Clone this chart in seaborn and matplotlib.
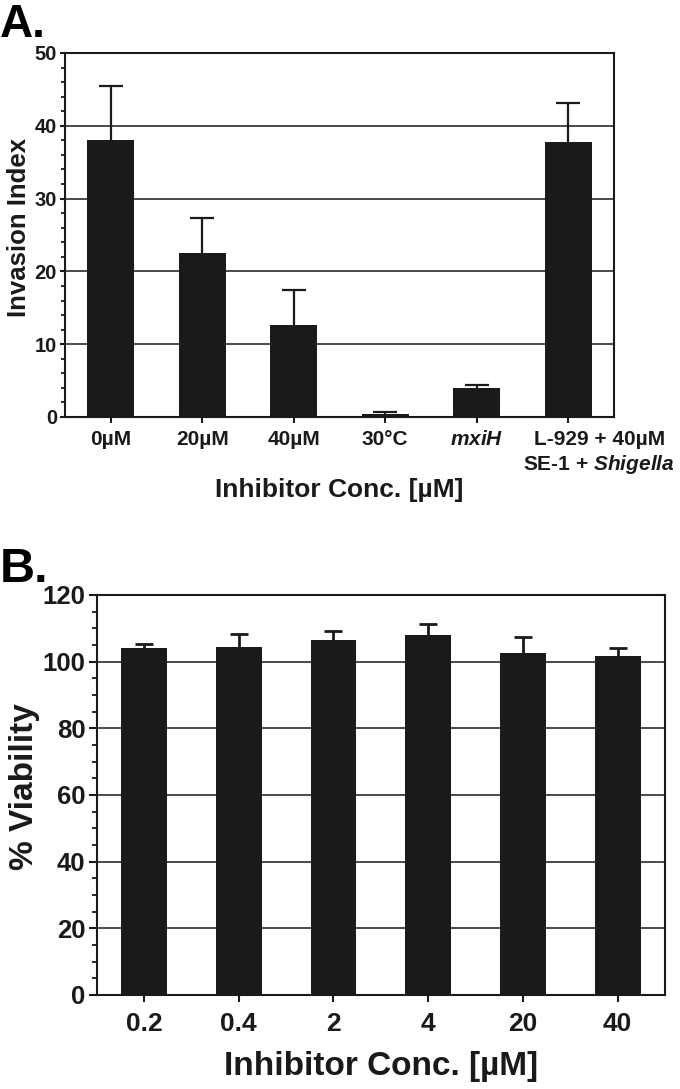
import numpy as np
import pandas as pd
import matplotlib
matplotlib.use("Agg")
import matplotlib.pyplot as plt
import matplotlib.transforms as mtransforms
from matplotlib.ticker import MultipleLocator
import seaborn as sns

# ---------------- data ----------------
# Panel A
a_labels = ["0µM", "20µM", "40µM", "30°C", r"$\mathit{mxiH}$",
            "L-929 + 40µM\nSE-1 + $\\mathit{Shigella}$"]
a_values = [38.1, 22.5, 12.6, 0.4, 4.0, 37.8]
a_errors = [7.3, 4.9, 4.9, 0.35, 0.4, 5.3]
a_yticks = [0, 10, 20, 30, 40, 50]

# Panel B
b_labels = ["0.2", "0.4", "2", "4", "20", "40"]
b_values = [104.1, 104.4, 106.5, 108.1, 102.5, 101.7]
b_errors = [1.2, 3.9, 2.6, 3.3, 4.9, 2.3]
b_yticks = [0, 20, 40, 60, 80, 100, 120]

# ---------------- style ----------------
sns.set_theme(style="white")
plt.rcParams["font.family"] = ["Liberation Sans", "DejaVu Sans"]
plt.rcParams["font.weight"] = "bold"
plt.rcParams["mathtext.fontset"] = "custom"
plt.rcParams["mathtext.it"] = "Liberation Sans:italic:bold"
plt.rcParams["mathtext.rm"] = "Liberation Sans:bold"
plt.rcParams["mathtext.bf"] = "Liberation Sans:bold"

BAR = "#1a1a1a"
INK = "#1a1a1a"

fig = plt.figure(figsize=(6.8, 10.89), dpi=100)


def style_axes(ax, ymax, major, minor, ytick_fs, xtick_fs, maj_len, min_len, xt_len, xpad):
    ax.set_ylim(0, ymax)
    ax.set_xlim(-0.5, 5.5)
    ax.yaxis.set_major_locator(MultipleLocator(major))
    ax.yaxis.set_minor_locator(MultipleLocator(minor))
    for s in ax.spines.values():
        s.set_visible(True)
        s.set_linewidth(1.5)
        s.set_color(INK)
    ax.set_axisbelow(True)
    ax.yaxis.grid(True, which="major", color=INK, linewidth=1.1)
    ax.xaxis.grid(False)
    ax.tick_params(axis="y", which="major", direction="out", length=maj_len, width=1.5,
                   color=INK, labelsize=ytick_fs, pad=2, left=True, labelcolor=INK)
    ax.tick_params(axis="y", which="minor", direction="out", length=min_len, width=1.3,
                   color=INK, left=True)
    ax.tick_params(axis="x", which="major", direction="out", length=xt_len, width=1.5,
                   color=INK, labelsize=xtick_fs, pad=xpad, bottom=True, labelcolor=INK)
    for lab in ax.get_xticklabels() + ax.get_yticklabels():
        lab.set_fontweight("bold")


def up_errorbars(ax, xs, vals, errs, lw, cap):
    cont = ax.errorbar(xs, vals, yerr=[np.zeros(len(vals)), errs], fmt="none",
                       ecolor=INK, elinewidth=lw, capsize=cap, capthick=lw, zorder=2)
    # hide the caps that sit on the bar tops (only upward whiskers in the original)
    for cl in cont[1]:
        if np.allclose(np.asarray(cl.get_ydata(), dtype=float), np.asarray(vals, dtype=float)):
            cl.set_visible(False)


# ---------------- Panel A ----------------
axA = fig.add_axes([65 / 680, 1 - 417 / 1089, 549 / 680, 364 / 1089])
dfA = pd.DataFrame({"cond": a_labels, "val": a_values, "err": a_errors})
sns.barplot(data=dfA, x="cond", y="val", color=BAR, saturation=1, width=0.51,
            errorbar=None, ax=axA, zorder=3, edgecolor=BAR, linewidth=0)
xsA = [p.get_x() + p.get_width() / 2 for p in axA.patches]
up_errorbars(axA, xsA, dfA["val"].values, dfA["err"].values, 1.6, 8.5)
style_axes(axA, 50, 10, 2, 14.5, 15, 3.8, 2.6, 4.3, 5)
axA.set_yticks(a_yticks)
axA.set_ylabel("Invasion Index", fontsize=18.5, fontweight="bold", color=INK)
axA.yaxis.set_label_coords(-0.062, 0.52)
axA.set_xlabel("Inhibitor Conc. [µM]", fontsize=19, fontweight="bold", color=INK)
axA.xaxis.set_label_coords(0.5, -0.168)
# shift the two-line label to the right as in the original
offset = mtransforms.ScaledTranslation(31 / 100, 0, fig.dpi_scale_trans)
lastlab = axA.get_xticklabels()[-1]
lastlab.set_transform(lastlab.get_transform() + offset)
lastlab.set_linespacing(1.25)

# ---------------- Panel B ----------------
axB = fig.add_axes([96.7 / 680, 1 - 995 / 1089, 568.3 / 680, 400 / 1089])
dfB = pd.DataFrame({"conc": b_labels, "val": b_values, "err": b_errors})
sns.barplot(data=dfB, x="conc", y="val", color=BAR, saturation=1, width=0.485,
            errorbar=None, ax=axB, zorder=3, edgecolor=BAR, linewidth=0)
xsB = [p.get_x() + p.get_width() / 2 for p in axB.patches]
up_errorbars(axB, xsB, dfB["val"].values, dfB["err"].values, 2.0, 6.5)
style_axes(axB, 120, 20, 5, 18.5, 19, 6.0, 3.8, 4.8, 7.5)
axB.set_yticks(b_yticks)
axB.set_ylabel("% Viability", fontsize=24, fontweight="bold", color=INK)
axB.yaxis.set_label_coords(-0.1, 0.52)
axB.set_xlabel("Inhibitor Conc. [µM]", fontsize=24, fontweight="bold", color=INK)
axB.xaxis.set_label_coords(0.5, -0.14)

# panel letters
fig.text(0.0, 1 - 36.7 / 1089, "A.", fontsize=33, fontweight="bold", color="black",
         va="baseline", ha="left")
fig.text(0.0, 1 - 582 / 1089, "B.", fontsize=35, fontweight="bold", color="black",
         va="baseline", ha="left")

fig.savefig("out.png", dpi=100, facecolor="white")
